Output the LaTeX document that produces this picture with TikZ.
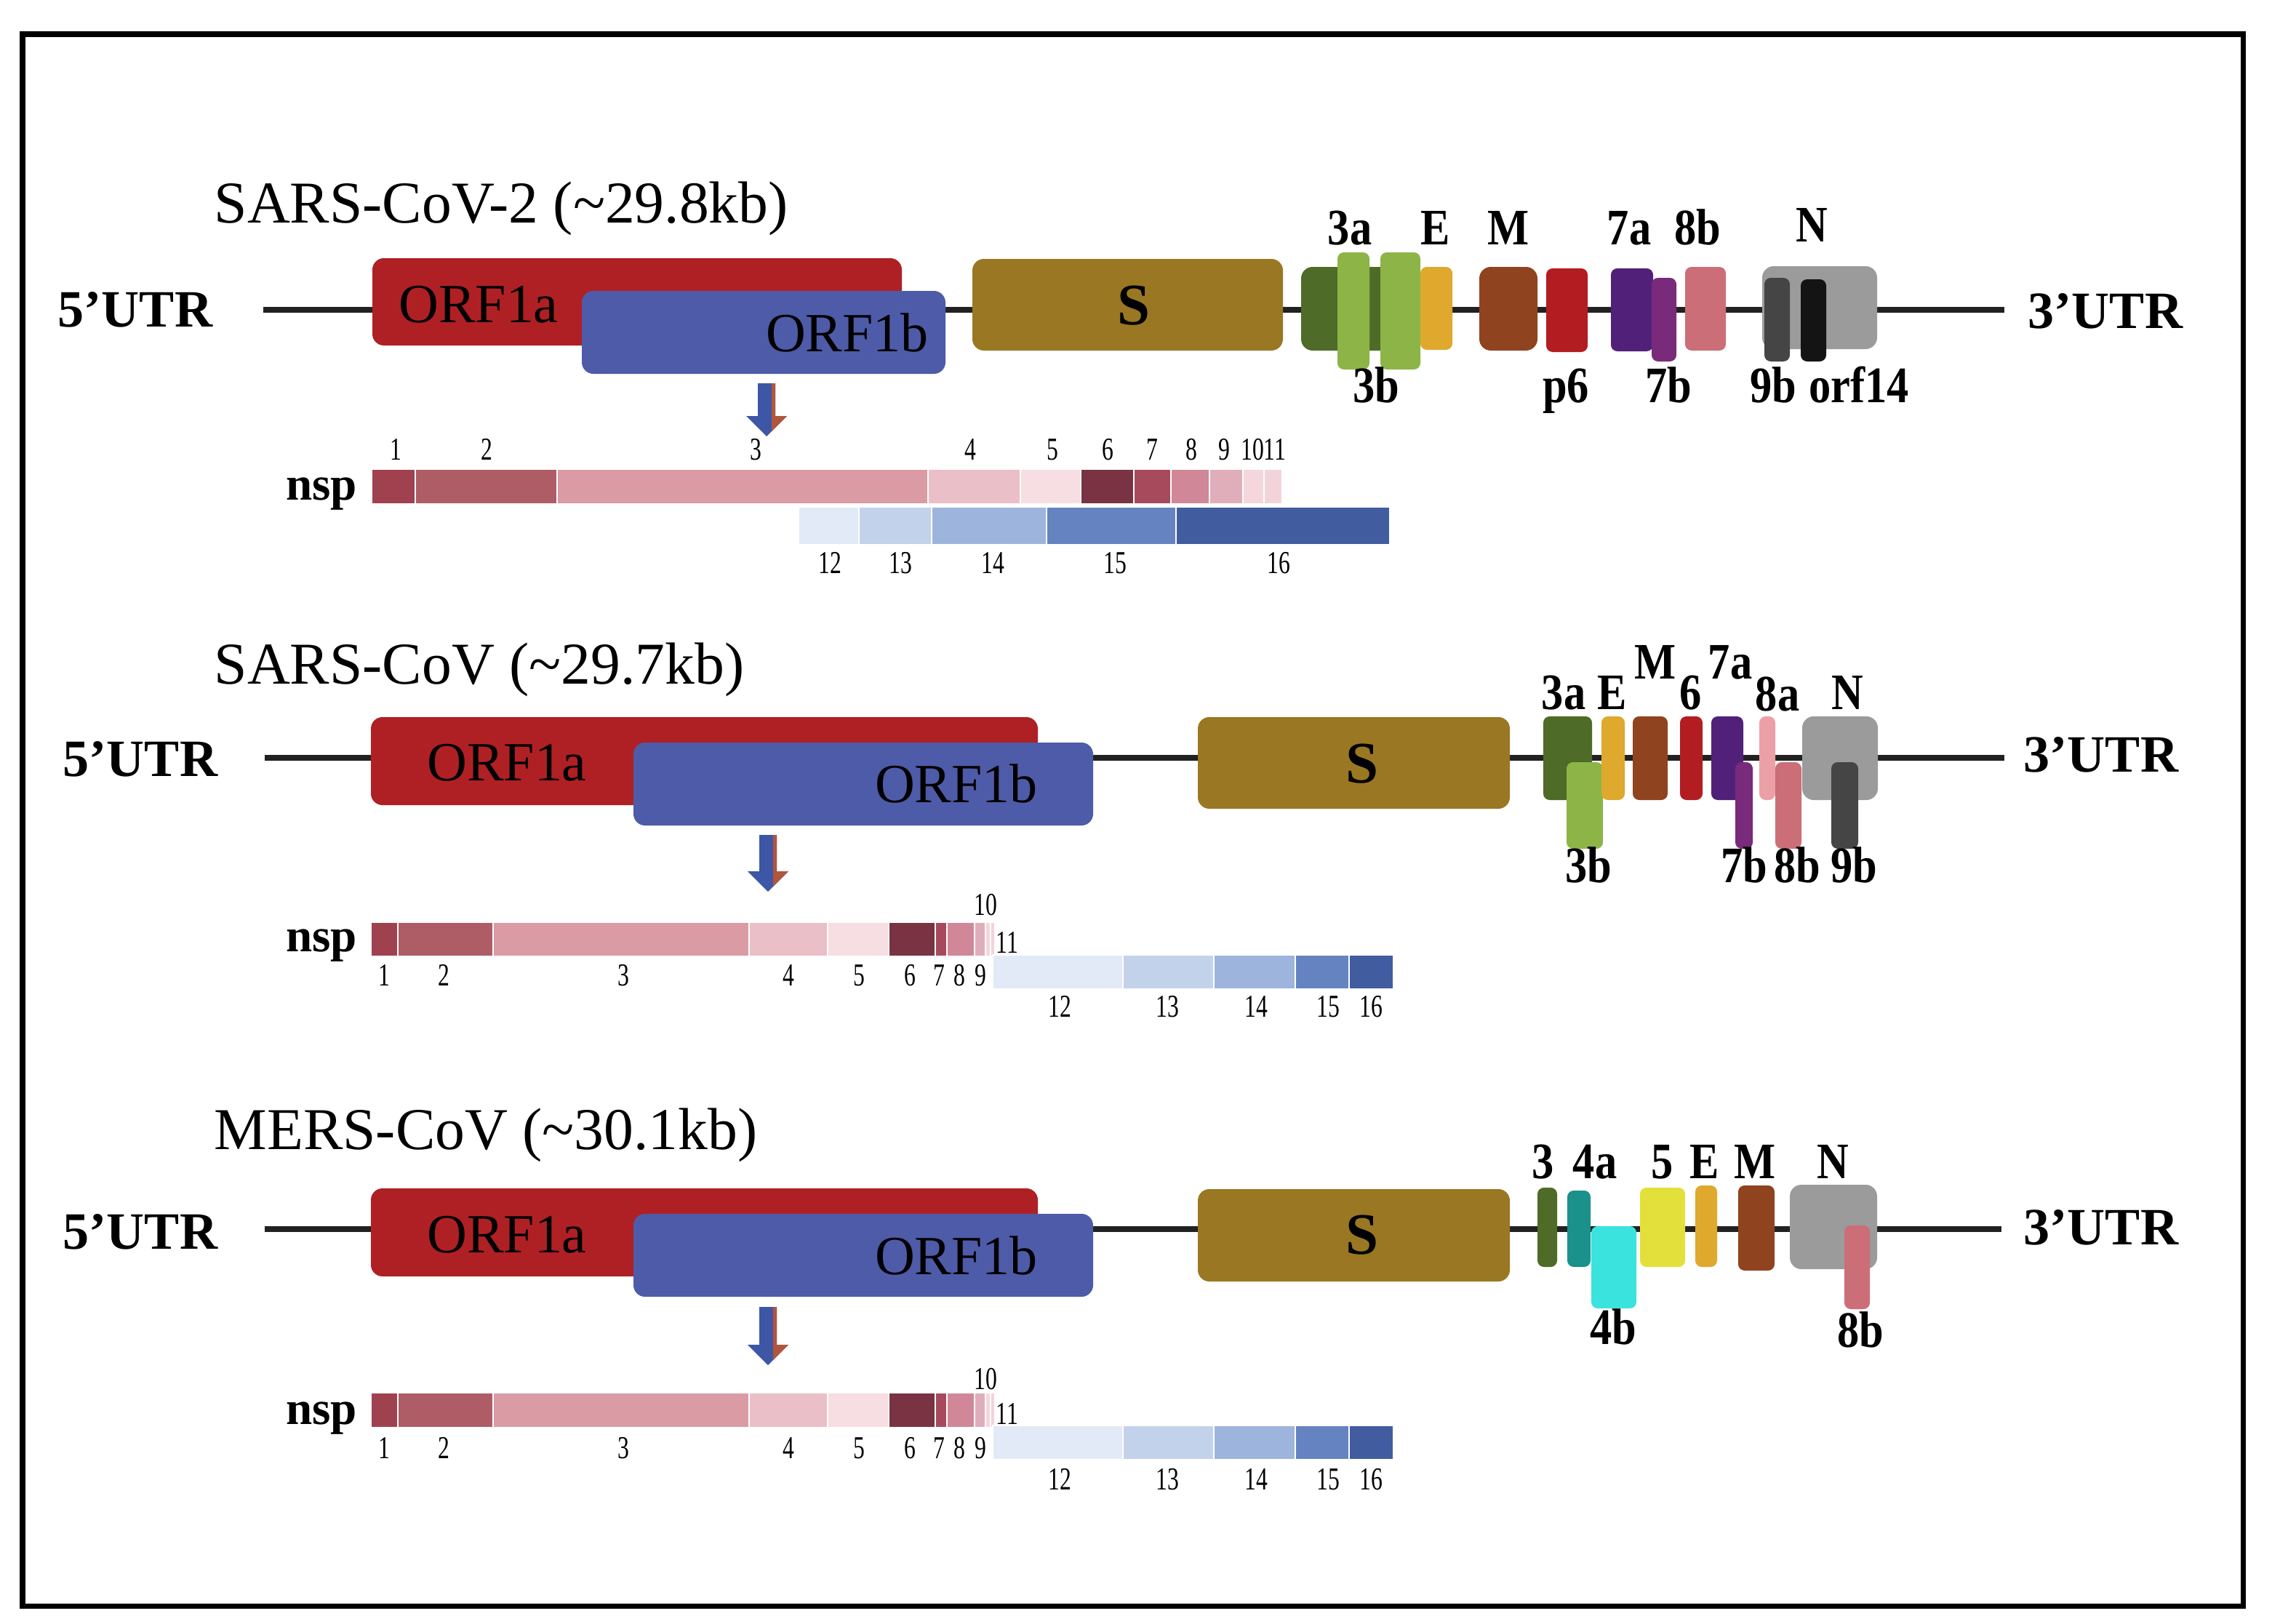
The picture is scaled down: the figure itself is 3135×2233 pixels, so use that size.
\documentclass[tikz,border=0pt]{standalone}
\usepackage{fontspec}
\setmainfont{Liberation Serif}
\definecolor{orfa}{HTML}{AF2024}
\definecolor{orfb}{HTML}{4E5BA8}
\definecolor{sgene}{HTML}{9A7722}
\definecolor{gdark}{HTML}{4E6B27}
\definecolor{glight}{HTML}{8DB447}
\definecolor{eyel}{HTML}{DEA92C}
\definecolor{mbrown}{HTML}{8F431E}
\definecolor{psix}{HTML}{B31D21}
\definecolor{psev}{HTML}{51217A}
\definecolor{psevb}{HTML}{7A2A7B}
\definecolor{peightb}{HTML}{CB6E77}
\definecolor{peighta}{HTML}{EBA0A8}
\definecolor{ngray}{HTML}{9B9B9B}
\definecolor{nineb}{HTML}{454545}
\definecolor{orfft}{HTML}{141414}
\definecolor{teal4}{HTML}{1B918B}
\definecolor{cyan4}{HTML}{3BE3DE}
\definecolor{yel5}{HTML}{E3E03B}
\definecolor{arrb}{HTML}{3E56A6}
\definecolor{arrr}{HTML}{B0563C}
\definecolor{nspa}{HTML}{A0414F}
\definecolor{nspb}{HTML}{AE5D66}
\definecolor{nspc}{HTML}{DA9BA4}
\definecolor{nspd}{HTML}{EBBFC7}
\definecolor{nspe}{HTML}{F6DEE2}
\definecolor{nspf}{HTML}{7A3343}
\definecolor{nspg}{HTML}{A64A5C}
\definecolor{nsph}{HTML}{D08898}
\definecolor{nspi}{HTML}{E0AEBA}
\definecolor{nspj}{HTML}{F4D6DC}
\definecolor{nspk}{HTML}{F3D3DA}
\definecolor{blua}{HTML}{E2EAF7}
\definecolor{blub}{HTML}{C3D2EB}
\definecolor{bluc}{HTML}{9DB4DD}
\definecolor{blud}{HTML}{6583C1}
\definecolor{blue}{HTML}{415C9F}
\newcommand\cnd[1]{\scalebox{0.72}[1]{#1}}
\newcommand\gtx[1]{\scalebox{0.86}[1]{#1}}
\newcommand\darrow[3]{%
\begin{scope}
\clip (#1-12,#2) -- (#1+12,#2) -- (#1+12,#3-28) -- (#1+28,#3-28) -- (#1,#3) -- (#1-28,#3-28) -- (#1-12,#3-28) -- cycle;
\fill[arrb] (#1-30,#2) rectangle (#1+30,#3);
\fill[arrr] (#1+7,#2) rectangle (#1+30,#3);
\end{scope}}
\tikzset{
  ttl/.style={font=\fontsize{23.2}{27}\selectfont, anchor=base west, inner sep=0},
  utr/.style={font=\fontsize{20.5}{24}\selectfont\bfseries, inner sep=0},
  orft/.style={font=\fontsize{21.6}{25}\selectfont, anchor=base, inner sep=0},
  sname/.style={font=\fontsize{23}{27}\selectfont\bfseries, inner sep=0},
  gl/.style={font=\fontsize{20}{24}\selectfont\bfseries, anchor=base, inner sep=0},
  nspl/.style={font=\fontsize{18.5}{22}\selectfont\bfseries, anchor=base, inner sep=0},
  num/.style={font=\fontsize{12.5}{14}\selectfont, anchor=base, inner sep=0},
  bbone/.style={line width=2.3pt, color=black!87},
  big/.style={rounded corners=4.5pt},
  sm/.style={rounded corners=2.5pt},
  seg/.style={draw=white, line width=0.5pt}
}
\begin{document}
\begin{tikzpicture}[x=0.01cm,y=-0.01cm]
\useasboundingbox (0,0) rectangle (3135,2233);
\fill[white] (0,0) rectangle (3135,2233);
\draw[line width=2pt] (31,47) rectangle (3084,2208);

% ================= Row 1: SARS-CoV-2 =================
\node[ttl] (t1) at (294,306) {SARS-CoV-2 (\textasciitilde 29.8kb)};
\node[utr] (l1) at (186,426) {5’UTR};
\node[utr] (r1) at (2895,428) {3’UTR};
\draw[bbone] (362,426) -- (2756,426);
\fill[big,orfa] (512,355) rectangle (1240,475);
\fill[big,orfb] (800,400) rectangle (1300,514);
\fill[big,sgene] (1337,356) rectangle (1764,482);
\fill[big,gdark] (1789,367) rectangle (1955,482);
\fill[sm,glight] (1839,347) rectangle (1883,508);
\fill[sm,glight] (1898,347) rectangle (1953,508);
\fill[sm,eyel] (1953,367) rectangle (1997,481);
\fill[big,mbrown] (2034,367) rectangle (2114,482);
\fill[sm,psix] (2126,369) rectangle (2183,484);
\fill[sm,psev] (2215,369) rectangle (2273,483);
\fill[sm,psevb] (2271,382) rectangle (2305,497);
\fill[sm,peightb] (2317,367) rectangle (2373,482);
\fill[big,ngray] (2423,366) rectangle (2581,480);
\fill[sm,nineb] (2426,382) rectangle (2461,497);
\fill[sm,orfft] (2476,384) rectangle (2511,497);
\node[orft] (a1) at (658,443) {ORF1a};
\node[orft] (b1) at (1165,483) {ORF1b};
\node[sname] (s1) at (1559,420) {S};
\node[gl] (g1a) at (1856,336) {\gtx{3a}};
\node[gl] (g1b) at (1974,336) {\gtx{E}};
\node[gl] (g1c) at (2074,336) {\gtx{M}};
\node[gl] (g1d) at (2240,336) {\gtx{7a}};
\node[gl] (g1e) at (2334,336) {\gtx{8b}};
\node[gl] (g1f) at (2491,332) {\gtx{N}};
\node[gl] (g1g) at (1892,553) {\gtx{3b}};
\node[gl] (g1h) at (2153,553) {\gtx{p6}};
\node[gl] (g1i) at (2294,553) {\gtx{7b}};
\node[gl] (g1j) at (2438,553) {\gtx{9b}};
\node[gl] (g1k) at (2556,553) {\gtx{orf14}};
\darrow{1054}{527}{600}
\node[nspl] (n1) at (442,687) {nsp};
\foreach \a/\b/\c in {511/571/nspa,571/766/nspb,766/1276/nspc,1276/1403/nspd,1403/1486/nspe,1486/1559/nspf,1559/1610/nspg,1610/1663/nsph,1663/1709/nspi,1709/1738/nspj,1738/1763/nspk}
  \fill[\c,seg] (\a,645) rectangle (\b,693);
\foreach \a/\b/\c in {1098/1181/blua,1181/1281/blub,1281/1439/bluc,1439/1617/blud,1617/1911/blue}
  \fill[\c,seg] (\a,697) rectangle (\b,749);
\foreach \x/\t in {544/1,669/2,1039/3,1334/4,1447/5,1523/6,1584/7,1638/8,1683/9,1722/10,1753/11}
  \node[num] at (\x,632) {\cnd{\t}};
\foreach \x/\t in {1141/12,1238/13,1365/14,1533/15,1758/16}
  \node[num] at (\x,788) {\cnd{\t}};

% ================= Row 2: SARS-CoV =================
\node[ttl] (t2) at (294,940) {SARS-CoV (\textasciitilde 29.7kb)};
\node[utr] (l2) at (193,1044) {5’UTR};
\node[utr] (r2) at (2889,1038) {3’UTR};
\draw[bbone] (364,1042) -- (2756,1042);
\fill[big,orfa] (510,986) rectangle (1427,1107);
\fill[big,orfb] (871,1021) rectangle (1503,1135);
\fill[big,sgene] (1647,986) rectangle (2076,1112);
\fill[sm,gdark] (2122,985) rectangle (2189,1100);
\fill[sm,glight] (2154,1048) rectangle (2204,1167);
\fill[sm,eyel] (2202,985) rectangle (2234,1100);
\fill[sm,mbrown] (2245,985) rectangle (2293,1100);
\fill[sm,psix] (2310,985) rectangle (2341,1100);
\fill[sm,psev] (2353,985) rectangle (2397,1100);
\fill[sm,psevb] (2386,1048) rectangle (2410,1167);
\fill[sm,peighta] (2419,985) rectangle (2441,1100);
\fill[sm,peightb] (2441,1048) rectangle (2477,1167);
\fill[big,ngray] (2478,985) rectangle (2582,1100);
\fill[sm,nineb] (2518,1048) rectangle (2555,1167);
\node[orft] (a2) at (697,1073) {ORF1a};
\node[orft] (b2) at (1315,1103) {ORF1b};
\node[sname] (s2) at (1873,1050) {S};
\node[gl] (g2a) at (2150,975) {\gtx{3a}};
\node[gl] (g2b) at (2217,975) {\gtx{E}};
\node[gl] (g2c) at (2276,933) {\gtx{M}};
\node[gl] (g2d) at (2325,975) {\gtx{6}};
\node[gl] (g2e) at (2379,933) {\gtx{7a}};
\node[gl] (g2f) at (2444,977) {\gtx{8a}};
\node[gl] (g2g) at (2540,975) {\gtx{N}};
\node[gl] (g2h) at (2184,1213) {\gtx{3b}};
\node[gl] (g2i) at (2398,1213) {\gtx{7b}};
\node[gl] (g2j) at (2471,1213) {\gtx{8b}};
\node[gl] (g2k) at (2549,1213) {\gtx{9b}};
\darrow{1056}{1148}{1226}
\node[nspl] (n2) at (442,1308) {nsp};
\foreach \a/\b/\c in {510/547/nspa,547/678/nspb,678/1030/nspc,1030/1138/nspd,1138/1222/nspe,1222/1286/nspf,1286/1302/nspg,1302/1340/nsph,1340/1355/nspi,1355/1362/nspj,1362/1368/nspk}
  \fill[\c,seg] (\a,1268) rectangle (\b,1315);
\foreach \a/\b/\c in {1365/1544/blua,1544/1669/blub,1669/1781/bluc,1781/1855/blud,1855/1916/blue}
  \fill[\c,seg] (\a,1313) rectangle (\b,1360);
\foreach \x/\t in {528/1,610/2,857/3,1084/4,1181/5,1251/6,1291/7,1319/8,1348/9}
  \node[num] at (\x,1355) {\cnd{\t}};
\node[num] at (1355,1258) {\cnd{10}};
\node[num] at (1385,1310) {\cnd{11}};
\foreach \x/\t in {1457/12,1605/13,1727/14,1826/15,1885/16}
  \node[num] at (\x,1398) {\cnd{\t}};

% ================= Row 3: MERS-CoV =================
\node[ttl] (t3) at (294,1580) {MERS-CoV (\textasciitilde 30.1kb)};
\node[utr] (l3) at (193,1694) {5’UTR};
\node[utr] (r3) at (2889,1688) {3’UTR};
\draw[bbone] (364,1690) -- (2752,1690);
\fill[big,orfa] (510,1634) rectangle (1427,1755);
\fill[big,orfb] (871,1669) rectangle (1503,1783);
\fill[big,sgene] (1647,1635) rectangle (2076,1762);
\fill[sm,gdark] (2114,1633) rectangle (2141,1742);
\fill[sm,teal4] (2155,1637) rectangle (2187,1742);
\fill[sm,cyan4] (2188,1686) rectangle (2250,1799);
\fill[sm,yel5] (2255,1633) rectangle (2317,1742);
\fill[sm,eyel] (2331,1630) rectangle (2361,1742);
\fill[sm,mbrown] (2390,1630) rectangle (2440,1747);
\fill[big,ngray] (2461,1629) rectangle (2581,1745);
\fill[sm,peightb] (2536,1685) rectangle (2571,1800);
\node[orft] (a3) at (697,1722) {ORF1a};
\node[orft] (b3) at (1315,1752) {ORF1b};
\node[sname] (s3) at (1873,1698) {S};
\node[gl] (g3a) at (2122,1620) {\gtx{3}};
\node[gl] (g3b) at (2193,1620) {\gtx{4a}};
\node[gl] (g3c) at (2286,1620) {\gtx{5}};
\node[gl] (g3d) at (2344,1620) {\gtx{E}};
\node[gl] (g3e) at (2413,1620) {\gtx{M}};
\node[gl] (g3f) at (2520,1620) {\gtx{N}};
\node[gl] (g3g) at (2218,1848) {\gtx{4b}};
\node[gl] (g3h) at (2558,1852) {\gtx{8b}};
\darrow{1056}{1797}{1877}
\node[nspl] (n3) at (442,1958) {nsp};
\foreach \a/\b/\c in {510/547/nspa,547/678/nspb,678/1030/nspc,1030/1138/nspd,1138/1222/nspe,1222/1286/nspf,1286/1302/nspg,1302/1340/nsph,1340/1355/nspi,1355/1362/nspj,1362/1368/nspk}
  \fill[\c,seg] (\a,1915) rectangle (\b,1963);
\foreach \a/\b/\c in {1365/1544/blua,1544/1669/blub,1669/1781/bluc,1781/1855/blud,1855/1916/blue}
  \fill[\c,seg] (\a,1960) rectangle (\b,2007);
\foreach \x/\t in {528/1,610/2,857/3,1084/4,1181/5,1251/6,1291/7,1319/8,1348/9}
  \node[num] at (\x,2005) {\cnd{\t}};
\node[num] at (1355,1910) {\cnd{10}};
\node[num] at (1385,1958) {\cnd{11}};
\foreach \x/\t in {1457/12,1605/13,1727/14,1826/15,1885/16}
  \node[num] at (\x,2048) {\cnd{\t}};
\end{tikzpicture}
\end{document}
